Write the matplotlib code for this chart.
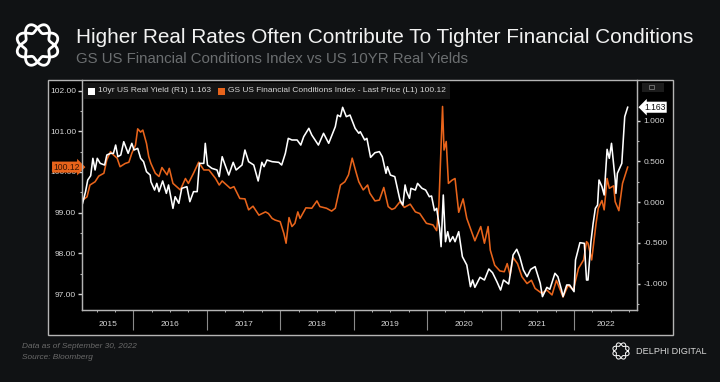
import numpy as np
import matplotlib
matplotlib.use('Agg')
import matplotlib.pyplot as plt
from matplotlib.patches import Rectangle
from matplotlib.transforms import blended_transform_factory

# 10yr US real yield (right axis)
yield_dates = [2015.31, 2015.35, 2015.38, 2015.42, 2015.45, 2015.48, 2015.51, 2015.55, 2015.61, 2015.64,
               2015.69, 2015.73, 2015.76, 2015.79, 2015.83, 2015.87, 2015.93, 2015.98, 2016.01, 2016.06,
               2016.10, 2016.14, 2016.18, 2016.23, 2016.24, 2016.29, 2016.32, 2016.35, 2016.40, 2016.45,
               2016.48, 2016.54, 2016.57, 2016.62, 2016.66, 2016.73, 2016.77, 2016.82, 2016.87, 2016.90,
               2016.96, 2016.98, 2017.01, 2017.07, 2017.14, 2017.17, 2017.21, 2017.25, 2017.30, 2017.36,
               2017.40, 2017.48, 2017.52, 2017.57, 2017.64, 2017.70, 2017.75, 2017.78, 2017.82, 2017.89,
               2017.98, 2018.02, 2018.07, 2018.11, 2018.16, 2018.23, 2018.28, 2018.32, 2018.39, 2018.43,
               2018.52, 2018.59, 2018.66, 2018.75, 2018.78, 2018.82, 2018.85, 2018.90, 2018.95, 2019.02,
               2019.07, 2019.09, 2019.15, 2019.18, 2019.23, 2019.29, 2019.35, 2019.39, 2019.44, 2019.46,
               2019.50, 2019.56, 2019.63, 2019.67, 2019.70, 2019.72, 2019.76, 2019.78, 2019.84, 2019.87,
               2019.93, 2019.98, 2020.03, 2020.06, 2020.10, 2020.13, 2020.17, 2020.19, 2020.22, 2020.25,
               2020.28, 2020.31, 2020.35, 2020.38, 2020.43, 2020.48, 2020.54, 2020.59, 2020.62, 2020.65,
               2020.72, 2020.78, 2020.84, 2020.89, 2020.95, 2021.00, 2021.04, 2021.11, 2021.13, 2021.17,
               2021.22, 2021.26, 2021.31, 2021.36, 2021.41, 2021.47, 2021.54, 2021.57, 2021.63, 2021.67,
               2021.74, 2021.78, 2021.83, 2021.85, 2021.90, 2021.94, 2022.00, 2022.02, 2022.08, 2022.14,
               2022.17, 2022.19, 2022.23, 2022.26, 2022.29, 2022.32, 2022.34, 2022.38, 2022.41, 2022.45,
               2022.48, 2022.51, 2022.56, 2022.57, 2022.59, 2022.65, 2022.69, 2022.73]
yield_values = [-0.016, 0.127, 0.27, 0.323, 0.536, 0.393, 0.536, 0.474, 0.454, 0.577,
                0.597, 0.597, 0.699, 0.556, 0.577, 0.74, 0.597, 0.72, 0.638, 0.658,
                0.536, 0.495, 0.372, 0.331, 0.249, 0.147, 0.229, 0.127, 0.258, 0.106,
                0.209, -0.078, 0.065, -0.016, 0.168, 0.188, 0.004, 0.127, 0.127, 0.474,
                0.474, 0.72, 0.454, 0.413, 0.393, 0.311, 0.556, 0.454, 0.331, 0.487,
                0.393, 0.454, 0.638, 0.495, 0.454, 0.258, 0.487, 0.434, 0.515, 0.495,
                0.487, 0.454, 0.597, 0.781, 0.761, 0.761, 0.699, 0.802, 0.904, 0.822,
                0.699, 0.843, 0.72, 0.924, 1.067, 1.047, 1.162, 1.047, 1.067, 0.904,
                0.843, 0.863, 0.761, 0.781, 0.548, 0.605, 0.618, 0.556, 0.352, 0.434,
                0.331, 0.311, 0.025, -0.037, 0.209, 0.127, 0.045, 0.168, 0.147, 0.229,
                0.168, 0.147, 0.065, 0.074, -0.106, -0.078, -0.323, -0.548, 0.086, -0.487,
                -0.364, -0.487, -0.425, -0.487, -0.364, -0.671, -0.773, -1.039, -0.957, -1.047,
                -0.924, -0.957, -0.822, -0.867, -0.978, -1.08, -0.957, -1.006, -0.896, -0.65,
                -0.58, -0.67, -0.834, -0.916, -0.826, -0.793, -0.998, -1.161, -1.047, -1.071,
                -0.875, -0.916, -1.08, -1.161, -1.018, -1.018, -1.10, -0.712, -0.499, -0.507,
                -0.957, -0.957, -0.487, -0.262, -0.078, -0.037, 0.27, 0.188, 0.086, 0.646,
                0.536, 0.72, 0.27, 0.106, 0.352, 0.474, 1.047, 1.163]

# GS US financial conditions index (left axis)
fci_dates = [2015.31, 2015.37, 2015.41, 2015.48, 2015.53, 2015.60, 2015.64, 2015.69, 2015.73, 2015.78,
             2015.82, 2015.89, 2015.94, 2015.98, 2016.03, 2016.06, 2016.10, 2016.13, 2016.18, 2016.21,
             2016.24, 2016.30, 2016.35, 2016.39, 2016.46, 2016.49, 2016.54, 2016.64, 2016.71, 2016.75,
             2016.82, 2016.89, 2016.96, 2017.03, 2017.12, 2017.17, 2017.21, 2017.32, 2017.37, 2017.45,
             2017.52, 2017.57, 2017.63, 2017.71, 2017.80, 2017.84, 2017.89, 2017.93, 2018.00, 2018.05,
             2018.08, 2018.12, 2018.16, 2018.20, 2018.24, 2018.27, 2018.35, 2018.43, 2018.50, 2018.54,
             2018.63, 2018.70, 2018.75, 2018.82, 2018.88, 2018.93, 2018.98, 2019.03, 2019.07, 2019.13,
             2019.19, 2019.22, 2019.29, 2019.35, 2019.41, 2019.47, 2019.52, 2019.56, 2019.63, 2019.69,
             2019.77, 2019.84, 2019.90, 2019.99, 2020.08, 2020.13, 2020.16, 2020.21, 2020.23, 2020.26,
             2020.29, 2020.34, 2020.38, 2020.43, 2020.49, 2020.54, 2020.65, 2020.73, 2020.78, 2020.83,
             2020.86, 2020.92, 2020.99, 2021.05, 2021.09, 2021.13, 2021.17, 2021.23, 2021.29, 2021.36,
             2021.42, 2021.47, 2021.56, 2021.63, 2021.70, 2021.76, 2021.85, 2021.92, 2021.99, 2022.06,
             2022.13, 2022.17, 2022.19, 2022.24, 2022.30, 2022.33, 2022.38, 2022.41, 2022.45, 2022.48,
             2022.54, 2022.56, 2022.61, 2022.66, 2022.69, 2022.73]
fci_values = [99.31, 99.39, 99.68, 99.76, 99.90, 99.97, 100.30, 100.50, 100.42, 100.34,
              100.13, 100.21, 100.24, 100.46, 100.66, 101.06, 100.98, 101.03, 100.70, 100.38,
              100.21, 99.97, 99.89, 100.11, 99.93, 100.09, 99.72, 99.56, 99.84, 99.72,
              99.97, 100.24, 100.05, 100.05, 99.84, 99.68, 99.78, 99.60, 99.64, 99.35,
              99.34, 99.07, 99.16, 98.94, 99.02, 98.98, 98.86, 98.82, 98.78, 98.49,
              98.25, 98.88, 98.66, 98.74, 99.02, 98.86, 99.12, 99.11, 99.29, 99.15,
              99.11, 99.04, 99.11, 99.68, 99.76, 99.93, 100.34, 100.01, 99.76, 99.56,
              99.68, 99.48, 99.29, 99.31, 99.62, 99.15, 99.08, 99.11, 99.27, 99.13,
              99.21, 99.02, 98.98, 98.74, 98.70, 98.56, 99.19, 101.61, 100.54, 100.75,
              99.72, 99.80, 99.84, 99.01, 99.34, 98.86, 98.31, 98.66, 98.25, 98.66,
              98.08, 97.71, 97.57, 97.55, 97.75, 97.47, 97.90, 97.75, 97.43, 97.26,
              97.34, 97.14, 97.02, 97.10, 96.98, 97.34, 96.93, 97.22, 97.10, 97.63,
              97.84, 98.29, 98.25, 97.84, 98.74, 99.11, 99.30, 99.07, 99.84, 99.60,
              99.66, 99.27, 99.05, 99.72, 99.89, 100.12]

left_ticks = [97, 98, 99, 100, 101, 102]
right_ticks = [-1.0, -0.5, 0.0, 0.5, 1.0]
years = [2015, 2016, 2017, 2018, 2019, 2020, 2021, 2022]

BG = '#101214'
FRAME = '#b4b4b4'
ORANGE = '#e8641b'
LABEL = '#d6d6d6'
FONT = 'Liberation Sans'

plt.rcParams['font.family'] = FONT

fig = plt.figure(figsize=(7.2, 3.82), dpi=100, facecolor=BG)

# full figure layer in pixels, for the panel and the header
page = fig.add_axes([0, 0, 1, 1], zorder=0)
page.set_xlim(0, 720)
page.set_ylim(382, 0)
page.axis('off')
page.add_patch(Rectangle((48, 80), 625, 255, facecolor='black', edgecolor=FRAME, linewidth=1.0))
page.add_patch(Rectangle((84, 83), 366, 16, facecolor='#141414', edgecolor='none', zorder=1))
page.add_patch(Rectangle((642, 83), 22, 9, facecolor='#1c1c1c', edgecolor='none'))
page.add_patch(Rectangle((649, 85), 5, 4, facecolor='none', edgecolor='#777777', linewidth=0.6))


def draw_logo(cx, cy, radius, wave, width):
    t = np.linspace(0, 2 * np.pi, 400)
    for sign in (1, -1):
        r = radius + sign * wave * np.sin(4 * t)
        page.plot(cx + r * np.cos(t), cy + r * np.sin(t), color='white', lw=width)


draw_logo(37.5, 45, 17, 4.5, 2.0)
draw_logo(621, 351, 6.8, 1.8, 0.7)

page.text(76, 43.3, 'Higher Real Rates Often Contribute To Tighter Financial Conditions',
          color='#f2f2f2', fontsize=14.93, va='baseline')
page.text(76, 62.7, 'GS US Financial Conditions Index vs US 10YR Real Yields',
          color='#6b6e70', fontsize=10.85, va='baseline')
page.text(22, 348, 'Data as of September 30, 2022', color='#6a6a6a', fontsize=5.95,
          style='italic', va='baseline')
page.text(22, 359, 'Source: Bloomberg', color='#6a6a6a', fontsize=5.95, style='italic', va='baseline')
page.text(636, 354, 'DELPHI DIGITAL', color='#d8d8d8', fontsize=6.6, va='baseline')

# chart axes
ax = fig.add_axes([82.3 / 720, (382 - 310) / 382, (637 - 82.3) / 720, 230 / 382], zorder=1)
ax.patch.set_alpha(0)
ax.set_xlim(2015.306, 2022.857)
ax.set_ylim(96.61, 102.26)
ax.plot(fci_dates, fci_values, color=ORANGE, lw=1.15)

ax2 = ax.twinx()
ax2.set_ylim(-1.325, 1.497)
ax2.plot(yield_dates, yield_values, color='white', lw=1.15)

ax.set_yticks(left_ticks)
ax.set_yticklabels(['%.2f' % v for v in left_ticks])
ax.set_yticks(np.array(left_ticks[:-1]) + 0.5, minor=True)
ax2.set_yticks(right_ticks)
ax2.set_yticklabels(['%.3f' % v for v in right_ticks])
ax2.set_yticks([-1.25, -0.75, -0.25, 0.25, 0.75], minor=True)

ax.set_xticks(years[1:])
ax.set_xticklabels([])
ax.set_xticks([y + q for y in years for q in (0.25, 0.5, 0.75) if y + q > 2015.31 and y + q < 2022.85], minor=True)

for axis in (ax, ax2):
    for side in ('top',):
        axis.spines[side].set_visible(False)
    for spine in axis.spines.values():
        spine.set_color(FRAME)
        spine.set_linewidth(0.9)
ax.tick_params(axis='y', which='major', colors=LABEL, length=3, width=1, labelsize=6, pad=1.5)
ax.tick_params(axis='y', which='minor', color=FRAME, length=1.5, width=0.8)
ax2.tick_params(axis='y', which='major', colors=LABEL, length=2.5, width=1, labelsize=6, pad=2)
ax2.tick_params(axis='y', which='minor', color=FRAME, length=1.5, width=0.8)
ax.tick_params(axis='x', which='major', color='#8a8a8a', length=14.4, width=0.8)
ax.tick_params(axis='x', which='minor', color=FRAME, length=1.2, width=0.7)

# year labels centred in the visible part of each year
low, high = ax.get_xlim()
trans = blended_transform_factory(ax.transData, ax.transAxes)
for y in years:
    mid = (max(y, low) + min(y + 1, high)) / 2
    ax.text(mid, -15 / 230, str(y), transform=trans, color=LABEL, fontsize=6,
            ha='center', va='center', clip_on=False)

# legend row
page.add_patch(Rectangle((88, 87.5), 7, 7, facecolor='white', zorder=2))
page.add_patch(Rectangle((218, 87.5), 7, 7, facecolor=ORANGE, zorder=2))
page.text(98, 91, '10yr US Real Yield (R1) %.3f' % yield_values[-1], color=LABEL, fontsize=6.05,
          va='center', zorder=2)
page.text(228, 91, 'GS US Financial Conditions Index - Last Price (L1) %.2f' % fci_values[-1],
          color=LABEL, fontsize=6.05, va='center', zorder=2)

# last value tags on both axes
ax.text(-16 / 555, fci_values[-1], '%.2f' % fci_values[-1],
        transform=blended_transform_factory(ax.transAxes, ax.transData), fontsize=6.2, color='#3a1604',
        ha='center', va='center', clip_on=False, zorder=5,
        bbox=dict(boxstyle='rarrow,pad=0.12', facecolor=ORANGE, edgecolor='none'))
ax2.text(18 / 555 + 1, yield_values[-1], '%.3f' % yield_values[-1],
         transform=blended_transform_factory(ax2.transAxes, ax2.transData), fontsize=6.2, color='#111111',
         ha='center', va='center', clip_on=False, zorder=5,
         bbox=dict(boxstyle='larrow,pad=0.12', facecolor='white', edgecolor='none'))

fig.savefig('out.png', dpi=100, facecolor=BG)
